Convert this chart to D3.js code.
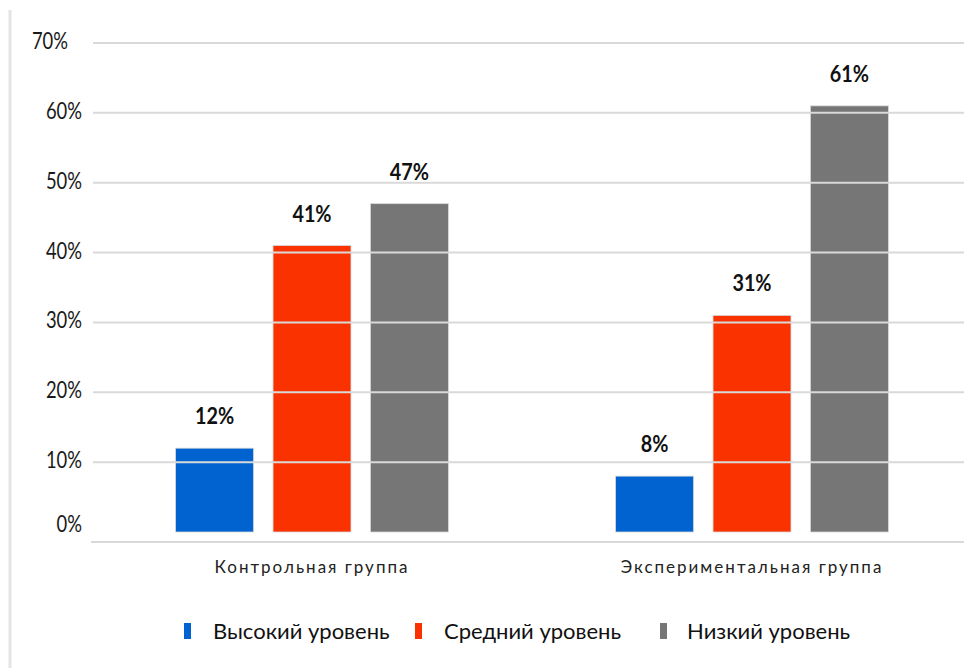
<!DOCTYPE html>
<html>
<head>
<meta charset="utf-8">
<script src="https://cdn.jsdelivr.net/npm/d3@7"></script>
<style>
  body { margin: 0; background: #fff; }
  svg { display: block; font-family: Lato, 'Open Sans', sans-serif; }
</style>
</head>
<body>
<svg id="chart" width="964" height="668"></svg>
<script>
const groups = ['Контрольная группа', 'Экспериментальная группа'];
const levels = ['Высокий уровень', 'Средний уровень', 'Низкий уровень'];
const high = [12, 8];
const middle = [41, 31];
const low = [47, 61];
const ticks = [0, 10, 20, 30, 40, 50, 60, 70];

const colors = ['#0063cf', '#f93200', '#767676'];
const series = [high, middle, low];

const data = groups.map((g, i) => ({
    group: g,
    values: levels.map((l, j) => ({ level: l, value: series[j][i], color: colors[j] }))
}));

const svg = d3.select('#chart');

// outer frame edge on the left
svg.append('line')
    .attr('x1', 10).attr('x2', 10)
    .attr('y1', 10).attr('y2', 668)
    .attr('stroke', '#e4e4e4')
    .attr('stroke-width', 3);

const y = d3.scaleLinear().domain([0, 70]).range([532, 43]);

const x0 = d3.scaleBand()
    .domain(groups)
    .range([92, 972])
    .paddingInner(0.38)
    .paddingOuter(0.19);

const x1 = d3.scaleBand()
    .domain(levels)
    .range([0, x0.bandwidth()])
    .paddingInner(0.2);

// bars
const g = svg.selectAll('.group')
    .data(data)
    .enter().append('g')
    .attr('transform', d => `translate(${x0(d.group)},0)`);

g.selectAll('rect')
    .data(d => d.values)
    .enter().append('rect')
    .attr('x', d => x1(d.level))
    .attr('y', d => y(d.value))
    .attr('width', x1.bandwidth())
    .attr('height', d => y(0) - y(d.value))
    .attr('fill', d => d.color)
    .attr('stroke', '#d8d8d8')
    .attr('stroke-width', 0.8);

// gridlines over the bars
svg.append('g')
    .selectAll('line')
    .data(ticks.filter(t => t > 0))
    .enter().append('line')
    .attr('x1', 93).attr('x2', 964)
    .attr('y1', d => y(d)).attr('y2', d => y(d))
    .attr('stroke', '#d9d9d9')
    .attr('stroke-width', 2);

// x axis line sits a bit under zero
svg.append('line')
    .attr('x1', 91).attr('x2', 964)
    .attr('y1', y(0) + 10).attr('y2', y(0) + 10)
    .attr('stroke', '#d9d9d9')
    .attr('stroke-width', 2);

// y tick labels (narrow, like the original's font)
svg.append('g')
    .selectAll('text')
    .data(ticks)
    .enter().append('text')
    .attr('transform', d => `translate(${d === 70 ? 68 : 82},${d === 0 ? y(d) - 8 : y(d) - 2}) scale(0.8,1)`)
    .attr('dy', '0.35em')
    .attr('text-anchor', 'end')
    .attr('font-size', 23)
    .attr('fill', '#1a1a1a')
    .text(d => d + '%');

// value labels
g.selectAll('.val')
    .data(d => d.values)
    .enter().append('text')
    .attr('transform', d => `translate(${x1(d.level) + x1.bandwidth() / 2},${y(d.value) - 24}) scale(0.9,1)`)
    .attr('text-anchor', 'middle')
    .attr('font-size', 22)
    .attr('font-weight', 'bold')
    .attr('fill', '#111')
    .text(d => d.value + '%');

// category labels
svg.append('g')
    .selectAll('text')
    .data(groups)
    .enter().append('text')
    .attr('x', d => x0(d) + x0.bandwidth() / 2)
    .attr('y', 573)
    .attr('text-anchor', 'middle')
    .attr('font-size', 17)
    .attr('letter-spacing', 2)
    .attr('fill', '#222')
    .text(d => d);

// legend
const legendX = [184, 415, 660];
const legend = svg.append('g')
    .selectAll('g')
    .data(levels)
    .enter().append('g')
    .attr('transform', (d, i) => `translate(${legendX[i]},623)`);

legend.append('rect')
    .attr('width', 7).attr('height', 16)
    .attr('fill', (d, i) => colors[i]);

legend.append('text')
    .attr('x', (d, i) => i === 2 ? 27 : 29)
    .attr('y', 16)
    .attr('font-size', 22)
    .attr('fill', '#111')
    .text(d => d);
</script>
</body>
</html>
